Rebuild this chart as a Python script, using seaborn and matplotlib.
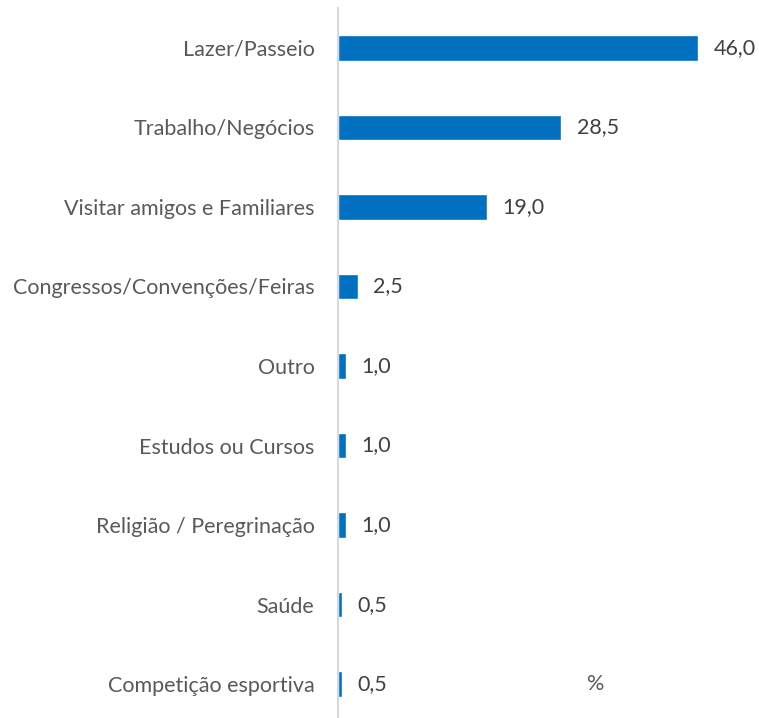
### Motivo da viagem - barras horizontais
import pandas as pd
import matplotlib.pyplot as plt
import seaborn as sns

motivos = ["Lazer/Passeio", "Trabalho/Negócios", "Visitar amigos e Familiares",
           "Congressos/Convenções/Feiras", "Outro", "Estudos ou Cursos",
           "Religião / Peregrinação", "Saúde", "Competição esportiva"]
percentuais = [46.0, 28.5, 19.0, 2.5, 1.0, 1.0, 1.0, 0.5, 0.5]

df = pd.DataFrame({"motivo": motivos, "pct": percentuais})

sns.set_style("white")
plt.rcParams["font.family"] = ["Lato", "DejaVu Sans"]

fig = plt.figure(figsize=(7.59, 7.18), dpi=100)
ax = fig.add_axes([338 / 759, -6 / 718, (729 - 338) / 759, 716 / 718])

sns.barplot(data=df, x="pct", y="motivo", orient="h", color="#0070C0",
            saturation=1, width=0.32, ax=ax)

ax.set_xlim(0, 50)
ax.set_ylim(8.5, -0.5)
ax.set_xlabel("")
ax.set_ylabel("")
ax.set_xticks([])
for s in ["top", "right", "bottom"]:
    ax.spines[s].set_visible(False)
ax.spines["left"].set_color("#D9D9D9")
ax.spines["left"].set_linewidth(1.5)
ax.tick_params(axis="y", length=0, pad=17, labelsize=15.5, labelcolor="#595959")

for i, v in enumerate(percentuais):
    ax.text(v + 2.0, i, f"{v:.1f}".replace(".", ","), va="center", ha="left",
            fontsize=15.5, color="#404040")

ax.text(33, 8, "%", ha="center", va="center", fontsize=15.5, color="#595959")

plt.savefig("out.png", dpi=100)
